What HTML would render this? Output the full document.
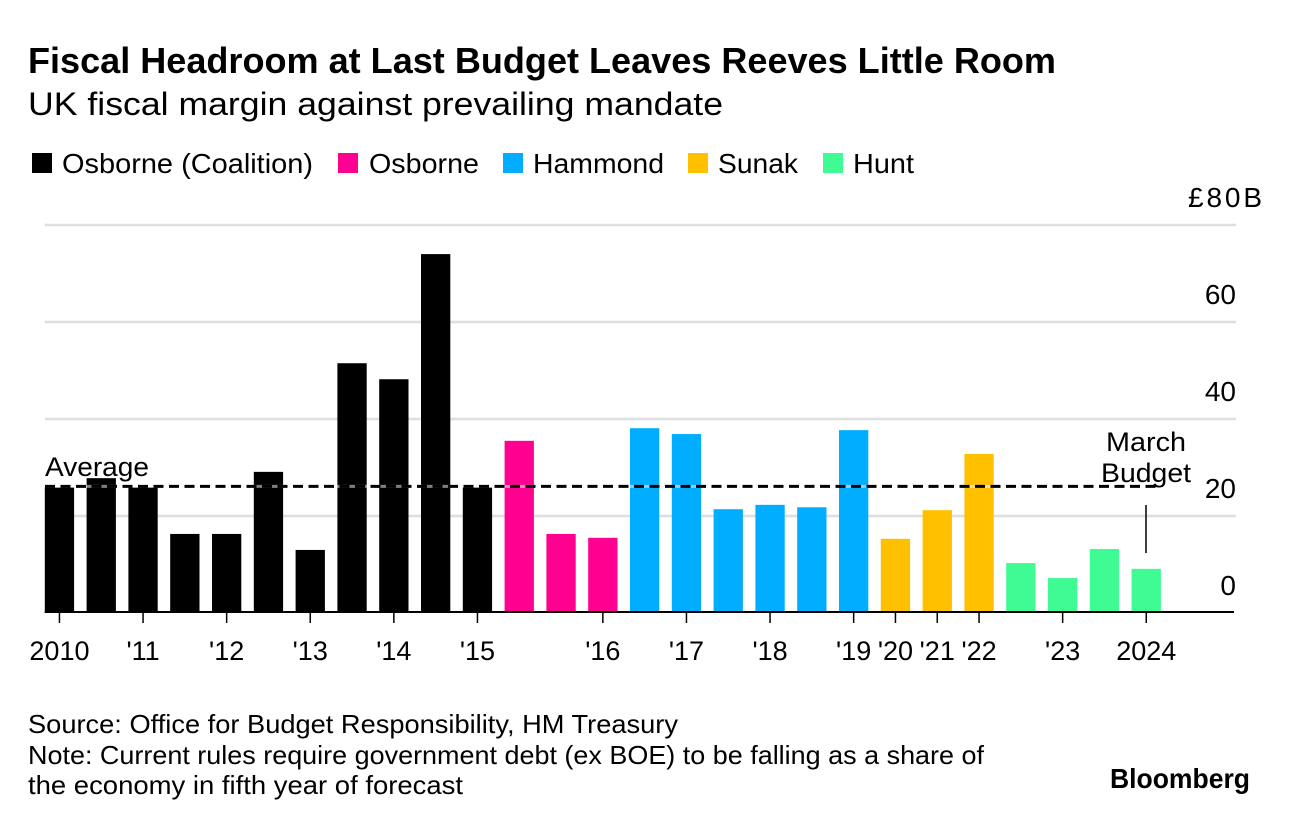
<!DOCTYPE html>
<html lang="en">
<head>
<meta charset="utf-8">
<title>Fiscal Headroom at Last Budget Leaves Reeves Little Room</title>
<style>
html,body{margin:0;padding:0;background:#fff;}
body{width:1289px;height:824px;overflow:hidden;}
svg{display:block;font-family:"Liberation Sans",sans-serif;fill:#000;}
</style>
</head>
<body>
<svg id="chart" width="1289" height="824" viewBox="0 0 1289 824" xmlns="http://www.w3.org/2000/svg">
  <text x="28" y="73" font-size="36" font-weight="700" textLength="1028" lengthAdjust="spacingAndGlyphs">Fiscal Headroom at Last Budget Leaves Reeves Little Room</text>
  <text x="28" y="115" font-size="32" textLength="695" lengthAdjust="spacingAndGlyphs">UK fiscal margin against prevailing mandate</text>

  <g font-size="28">
    <rect x="32" y="153" width="20" height="20" fill="#000000"/>
    <text x="62" y="173" textLength="251" lengthAdjust="spacingAndGlyphs">Osborne (Coalition)</text>
    <rect x="338" y="153" width="20" height="20" fill="#ff0090"/>
    <text x="369" y="173" textLength="110" lengthAdjust="spacingAndGlyphs">Osborne</text>
    <rect x="503" y="153" width="20" height="20" fill="#00adff"/>
    <text x="533" y="173" textLength="131" lengthAdjust="spacingAndGlyphs">Hammond</text>
    <rect x="688" y="153" width="20" height="20" fill="#ffc000"/>
    <text x="718" y="173" textLength="80" lengthAdjust="spacingAndGlyphs">Sunak</text>
    <rect x="823" y="153" width="20" height="20" fill="#3ffb94"/>
    <text x="853" y="173" textLength="61" lengthAdjust="spacingAndGlyphs">Hunt</text>
  </g>

  <g id="grid"></g>
  <g id="bars"></g>
  <g id="avg"></g>
  <g id="xaxis" font-size="27"></g>
  <g id="yaxis" font-size="28"></g>

  <text x="45" y="476" font-size="27" textLength="104" lengthAdjust="spacingAndGlyphs">Average</text>
  <text x="1106" y="451" font-size="27" textLength="80" lengthAdjust="spacingAndGlyphs">March</text>
  <text x="1101" y="482" font-size="27" textLength="90" lengthAdjust="spacingAndGlyphs">Budget</text>
  <line x1="1146" y1="505" x2="1146" y2="553" stroke="#000" stroke-width="1.5"/>

  <text x="28" y="733" font-size="26" textLength="650" lengthAdjust="spacingAndGlyphs">Source: Office for Budget Responsibility, HM Treasury</text>
  <text x="28" y="764" font-size="26" textLength="956" lengthAdjust="spacingAndGlyphs">Note: Current rules require government debt (ex BOE) to be falling as a share of</text>
  <text x="28" y="794" font-size="26" textLength="435" lengthAdjust="spacingAndGlyphs">the economy in fifth year of forecast</text>
  <text x="1110" y="788" font-size="28" font-weight="700" textLength="140" lengthAdjust="spacingAndGlyphs">Bloomberg</text>
</svg>
<script>
// Bar values in £ billions, one array per chancellor
const osborneCoalition = [25.9, 27.8, 25.9, 16.3, 16.3, 29.1, 13.0, 51.5, 48.2, 74.0, 25.9];
const osborne = [35.5, 16.3, 15.5];
const hammond = [38.1, 36.9, 21.4, 22.3, 21.8, 37.7];
const sunak = [15.3, 21.2, 32.8];
const hunt = [10.3, 7.2, 13.2, 9.1];
const averageValue = 26.1;
// One entry per bar; blank entries carry no tick
const categories = ["2010", "", "'11", "", "'12", "", "'13", "", "'14", "", "'15", "", "", "'16", "", "'17", "", "'18", "", "'19", "'20", "'21", "'22", "", "'23", "", "2024"];
const yTicks = [0, 20, 40, 60, 80];

const NS = 'http://www.w3.org/2000/svg';
const seriesList = [
  { key: 'osborne-coalition', values: osborneCoalition, color: '#000000' },
  { key: 'osborne', values: osborne, color: '#ff0090' },
  { key: 'hammond', values: hammond, color: '#00adff' },
  { key: 'sunak', values: sunak, color: '#ffc000' },
  { key: 'hunt', values: hunt, color: '#3ffb94' }
];
const xLeft = 44.8, step = 41.8, barW = 29.3, axisRight = 1234;
const yZero = 613, pxPerUnit = 4.85;
function xScale(i) { return xLeft + step * i; }
function yScale(v) { return yZero - v * pxPerUnit; }
function make(tag, attrs) {
  const el = document.createElementNS(NS, tag);
  for (const k in attrs) el.setAttribute(k, attrs[k]);
  return el;
}

const grid = document.getElementById('grid');
const yaxis = document.getElementById('yaxis');
yTicks.forEach(function (t) {
  if (t !== 0) {
    const gl = make('line', { x1: xLeft, x2: axisRight + 2, y1: yScale(t), y2: yScale(t), stroke: '#dedede', 'stroke-width': 2.6 });
    
    
    grid.appendChild(gl);
  }
  const isTop = t === yTicks[yTicks.length - 1];
  const lab = make('text', isTop
    ? { x: 1188, y: yScale(t) - 18, textLength: 74, lengthAdjust: 'spacing' }
    : { x: 1236, y: yScale(t) - 18, 'text-anchor': 'end' });
  
  
  lab.textContent = isTop ? '£' + t + 'B' : String(t);
  yaxis.appendChild(lab);
});

const bars = document.getElementById('bars');
let idx = 0;
seriesList.forEach(function (s) {
  s.values.forEach(function (v) {
    const r = make('rect', { x: xScale(idx), y: yScale(v), width: barW, height: yZero - yScale(v), fill: s.color });
    
    
    bars.appendChild(r);
    idx++;
  });
});

const xaxis = document.getElementById('xaxis');
const baseline = make('line', { x1: xLeft, x2: axisRight, y1: yZero - 1, y2: yZero - 1, stroke: '#000', 'stroke-width': 2 });


xaxis.appendChild(baseline);
categories.forEach(function (c, i) {
  if (!c) return;
  const cx = xScale(i) + barW / 2;
  const tick = make('line', { x1: cx, x2: cx, y1: yZero - 1, y2: yZero + 10, stroke: '#000', 'stroke-width': 1.5 });
  
  
  xaxis.appendChild(tick);
  const lab = make('text', { x: cx, y: 660, 'text-anchor': 'middle' });
  
  
  lab.textContent = c;
  xaxis.appendChild(lab);
});

const avg = document.getElementById('avg');
const halo = make('line', { x1: 45, x2: 1157, y1: yScale(averageValue), y2: yScale(averageValue), stroke: '#fff', 'stroke-width': 3, 'stroke-opacity': 0.5 });


avg.appendChild(halo);
const avgLine = make('line', { x1: 45, x2: 1157, y1: yScale(averageValue), y2: yScale(averageValue), stroke: '#000', 'stroke-width': 3, 'stroke-dasharray': '10 5.5' });


avg.appendChild(avgLine);
</script>
</body>
</html>
